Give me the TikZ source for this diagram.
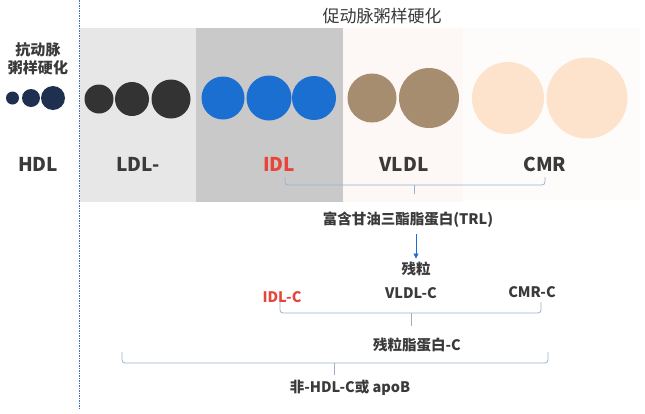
\documentclass[tikz,border=0pt]{standalone}
\usepackage{fontspec}
\setmainfont{Noto Sans CJK SC}
\usetikzlibrary{arrows.meta}

\definecolor{hdlblue}{HTML}{1F2F4F}
\definecolor{ldlgray}{HTML}{333333}
\definecolor{idlblue}{HTML}{1A6FD0}
\definecolor{vldlbrown}{HTML}{A68D6F}
\definecolor{cmrpeach}{HTML}{FDE3CB}
\definecolor{labelred}{HTML}{E8453A}
\definecolor{txtgray}{HTML}{3A3A3A}
\definecolor{bracecol}{HTML}{9AB0CC}
\definecolor{dashblue}{HTML}{3D6CC0}
\definecolor{ldlpanel}{HTML}{E7E7E7}
\definecolor{idlpanel}{HTML}{C9C9C9}
\definecolor{vldlpanel}{HTML}{FDF7F5}
\definecolor{cmrpanel}{HTML}{FEFCFB}

\tikzset{
  ball/.style={circle, inner sep=0pt, draw=none},
  biglabel/.style={font=\fontsize{19}{21}\selectfont\bfseries, text=txtgray},
  smalllabel/.style={font=\fontsize{14.5}{17}\selectfont\bfseries, text=txtgray},
  brace/.style={draw=bracecol, line width=0.8pt, rounded corners=3pt},
}

\begin{document}
\begin{tikzpicture}[x=1pt, y=-1pt]
            \useasboundingbox (0, 0) rectangle (645, 413);
            % panels
            \fill[white] (0, 0) rectangle (645, 413);
            \fill[ldlpanel] (80, 28) rectangle (196, 202);
            \fill[idlpanel] (196, 28) rectangle (343, 202);
            \fill[vldlpanel] (343, 28) rectangle (463, 202);
            \fill[cmrpanel] (463, 28) rectangle (640, 200);
            \draw[dashblue, dash pattern=on 1.5pt off 1pt, line width=1pt] (79, 0) -- (79, 410);

            % headings
            \node[font=\fontsize{17}{19}\selectfont, text=txtgray] (pro) at (382, 16) {促动脉粥样硬化};
            \node[font=\fontsize{15}{18}\selectfont\bfseries, text=txtgray, align=center] (anti) at (38, 59) {抗动脉\\粥样硬化};

            % particles
            \node[ball, fill=hdlblue, minimum size=13] (h1) at (12.5, 98) {};
            \node[ball, fill=hdlblue, minimum size=18] (h2) at (31, 98) {};
            \node[ball, fill=hdlblue, minimum size=24] (h3) at (53, 98) {};
            \node[ball, fill=ldlgray, minimum size=29] (l1) at (99, 99) {};
            \node[ball, fill=ldlgray, minimum size=34] (l2) at (132, 99) {};
            \node[ball, fill=ldlgray, minimum size=39] (l3) at (171, 99) {};
            \node[ball, fill=idlblue, minimum size=43] (i1) at (223, 98) {};
            \node[ball, fill=idlblue, minimum size=45] (i2) at (269, 98) {};
            \node[ball, fill=idlblue, minimum size=44] (i3) at (314, 98) {};
            \node[ball, fill=vldlbrown, minimum size=49] (v1) at (372, 98) {};
            \node[ball, fill=vldlbrown, minimum size=60] (v2) at (429, 98) {};
            \node[ball, fill=cmrpeach, minimum size=72] (c1) at (508, 98) {};
            \node[ball, fill=cmrpeach, minimum size=81] (c2) at (587, 98) {};

            % names
            \node[biglabel] (hdl) at (38, 164) {HDL};
            \node[biglabel] (ldl) at (138, 164) {LDL-};
            \node[biglabel, text=labelred] (idl) at (279, 164) {IDL};
            \node[biglabel] (vldl) at (404, 164) {VLDL};
            \node[biglabel] (cmr) at (545, 164) {CMR};

            % TRL
            \node[smalllabel] (trl) at (408, 220) {富含甘油三酯脂蛋白(TRL)};
            \coordinate (b1l) at (285, 177);
            \coordinate (b1r) at (545, 177);
            \draw[brace] (b1l) -- (285, 185) -- (545, 185) -- (b1r);
            \draw[bracecol, line width=0.8pt] (414, 185) -- (414, 194);
            \node[smalllabel] (rem) at (416, 269) {残粒};
            \draw[-{Triangle[length=5pt, width=5pt]}, idlblue, line width=0.7pt] (trl.south -| rem) ++(0, 3) -- (rem.north);

            % remnant cholesterol
            \node[smalllabel, text=labelred] (idlc) at (282, 297) {IDL-C};
            \node[smalllabel] (vldlc) at (411, 293) {VLDL-C};
            \node[smalllabel] (cmrc) at (532, 292) {CMR-C};
            \draw[brace] (280, 302) -- (280, 313) -- (541, 313) -- (541, 302);
            \draw[bracecol, line width=0.8pt] (411, 313) -- (411, 326);
            \node[smalllabel] (remc) at (417, 345) {残粒脂蛋白-C};

            % non-HDL
            \draw[brace] (122, 352) -- (122, 363) -- (548, 363) -- (548, 352);
            \draw[bracecol, line width=0.8pt] (334, 363) -- (334, 375);
            \node[smalllabel] (nonhdl) at (350, 388) {非-HDL-C或 apoB};
\end{tikzpicture}
\end{document}
